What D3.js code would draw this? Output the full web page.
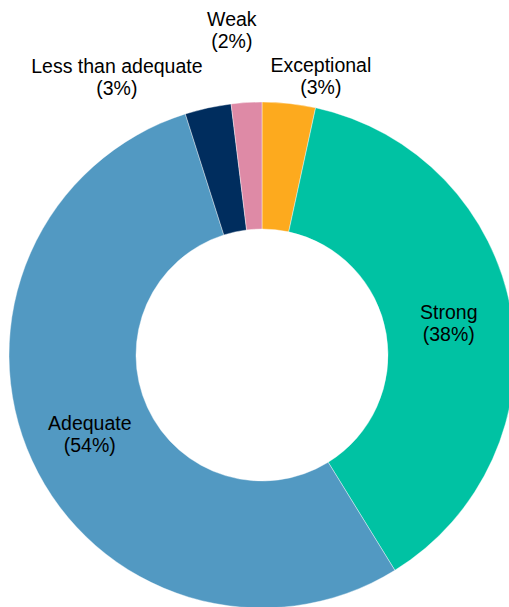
<!DOCTYPE html>
<html><head><meta charset="utf-8">
<script src="https://cdn.jsdelivr.net/npm/d3@7"></script>
<style>body{margin:0;background:#fff}svg{display:block}</style>
</head><body>
<svg id="c" width="509" height="607"></svg>
<script>
const categories = ["Exceptional", "Strong", "Adequate", "Less than adequate", "Weak"];
const values = [3.4, 37.8, 53.9, 2.95, 1.95];
const labels = ["3%", "38%", "54%", "3%", "2%"];
const colors = ["#FDAA1E", "#00C2A3", "#5299C2", "#002D5E", "#DE8AA6"];

// label layout: inside (centroid) or outside with placement tweaks
const labelMode = ["out", "in", "in", "out", "out"];
const outLayout = {0: {r: 285, da: 5.8}, 3: {r: 314, da: -15.2}, 4: {r: 326, da: -1.8}};

const svg = d3.select("#c");
const cx = 262, cy = 355, R = 253, r0 = 126;
const g = svg.append("g").attr("transform", `translate(${cx},${cy})`);

const data = categories.map((c, i) => ({cat: c, value: values[i], label: labels[i], color: colors[i], i}));
const pie = d3.pie().value(d => d.value).sort(null);
const arc = d3.arc().innerRadius(r0).outerRadius(R);
const arcs = pie(data);

g.selectAll("path").data(arcs).join("path")
  .attr("d", arc)
  .attr("fill", d => d.data.color)
  .attr("stroke", "#fff").attr("stroke-width", 0.4);

const fs = 19.5;
arcs.forEach(a => {
  let x, y;
  if (labelMode[a.data.i] === "in") {
    [x, y] = arc.centroid(a);
  } else {
    const lay = outLayout[a.data.i];
    const mid = (a.startAngle + a.endAngle) / 2 + lay.da * Math.PI / 180;
    x = lay.r * Math.sin(mid);
    y = -lay.r * Math.cos(mid);
  }
  const t = g.append("text").attr("text-anchor", "middle")
    .attr("font-family", "Liberation Sans, Arial, sans-serif")
    .attr("font-size", fs).attr("fill", "#000");
  t.append("tspan").attr("x", x).attr("y", y - 11 + 7).text(a.data.cat);
  t.append("tspan").attr("x", x).attr("y", y + 11 + 7).text(`(${a.data.label})`);
});
</script>
</body></html>
